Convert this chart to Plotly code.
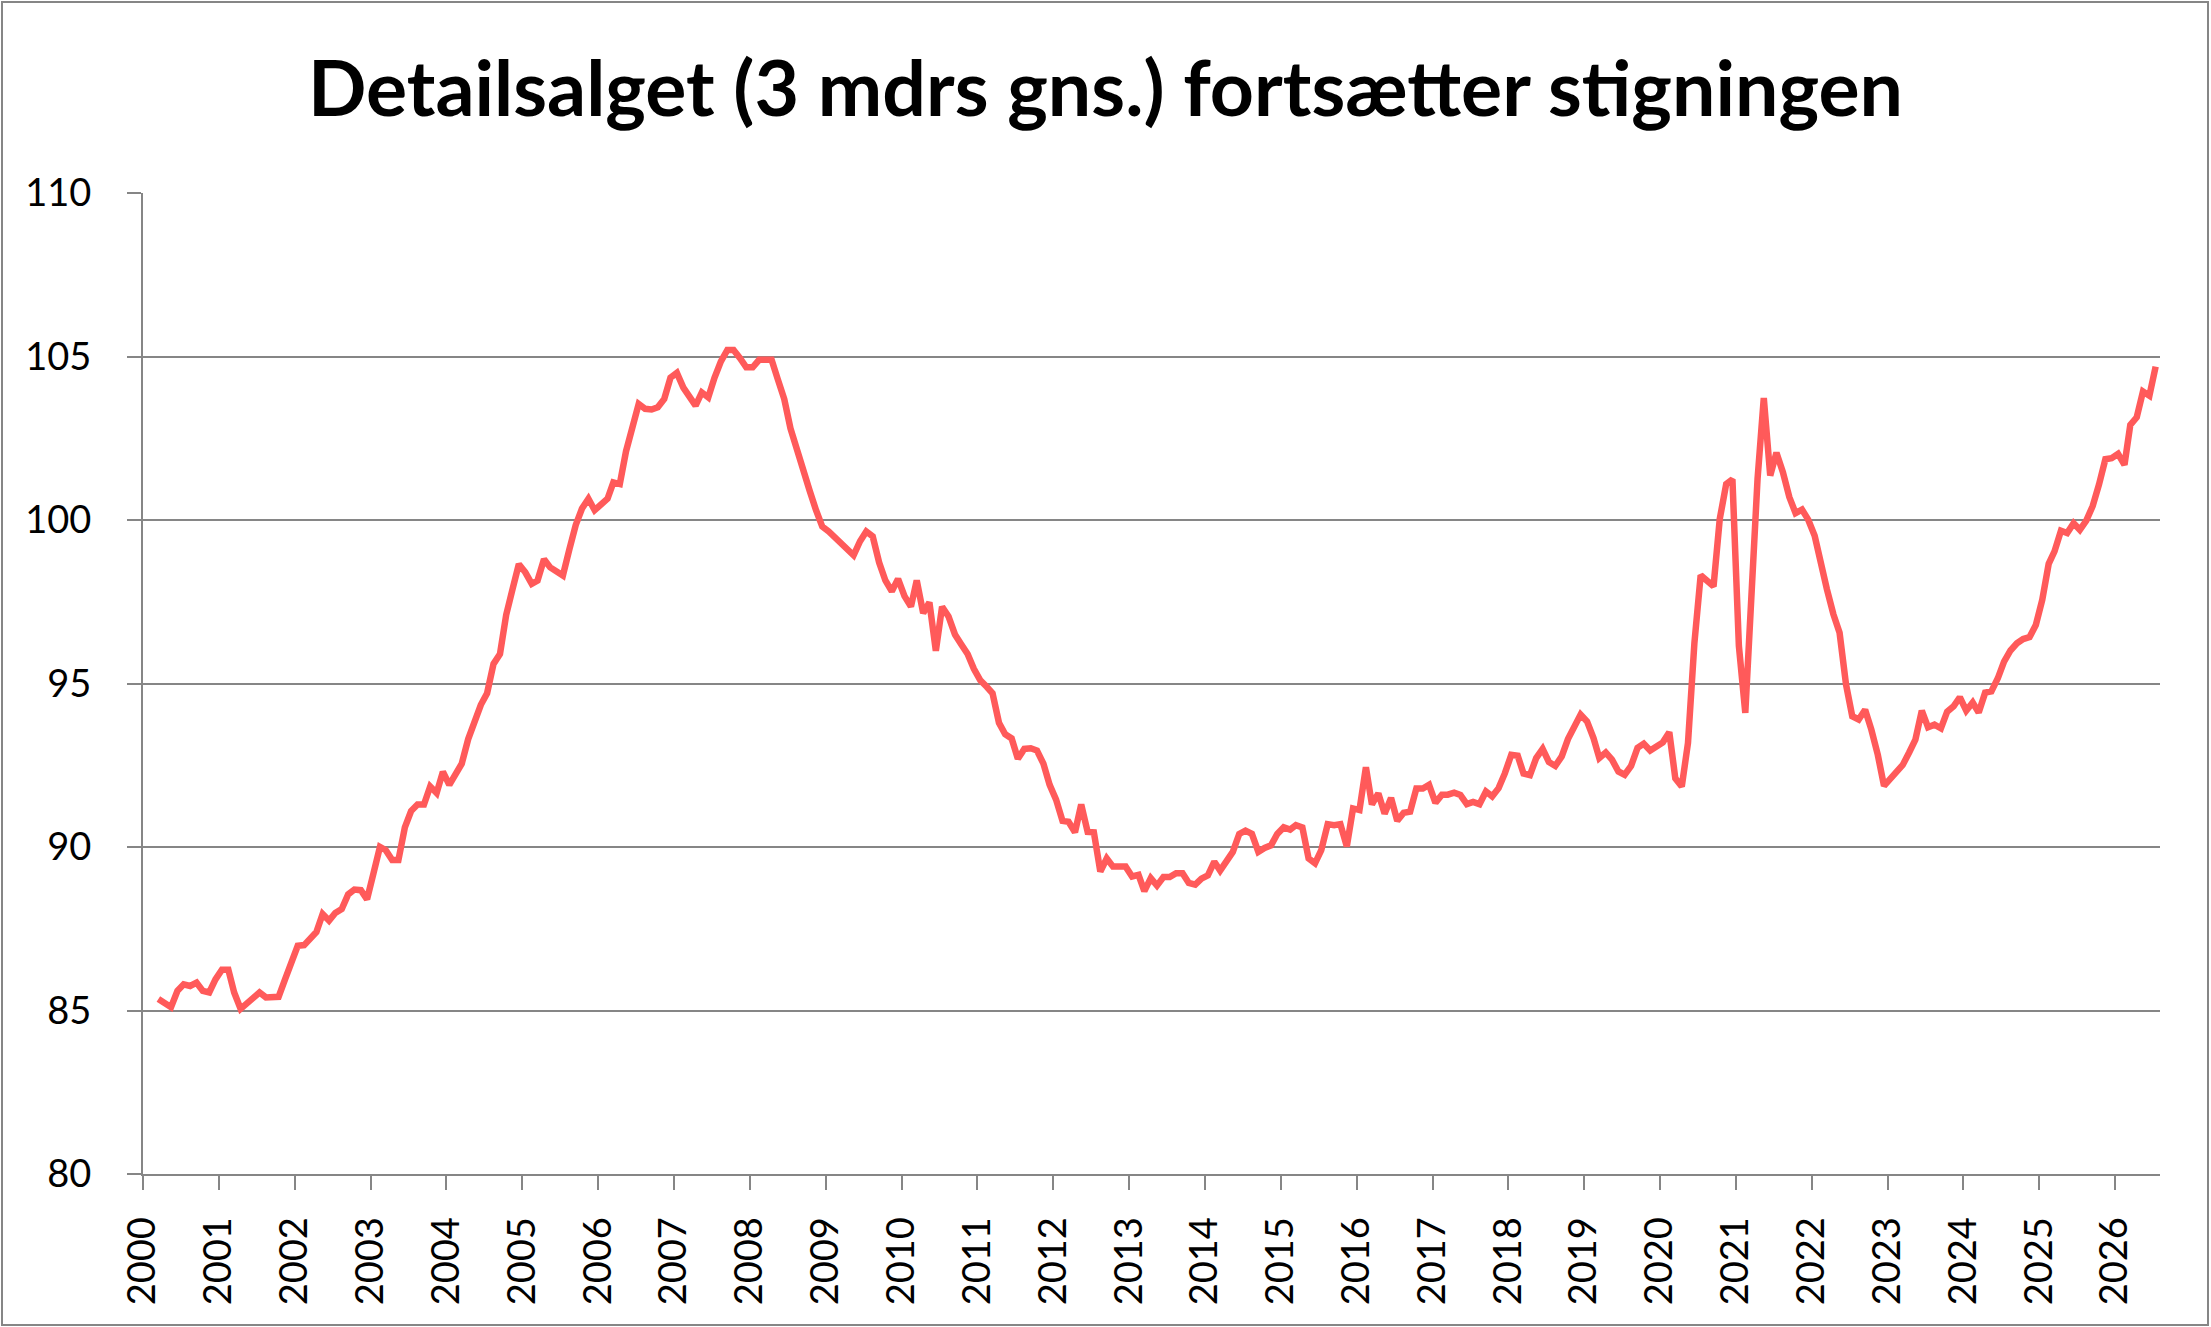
import pandas as pd
import plotly.graph_objects as go

# Detailsalget, 3 mdrs glidende gennemsnit (indeks), månedlige værdier fra marts 2000
START_MONTH = "2000-03-01"

values_2000 = [85.35, 85.2, 85.1, 85.6, 85.8, 85.75, 85.85, 85.6, 85.55, 85.95]
values_2001 = [86.25, 86.25, 85.55, 85.05, 85.2, 85.4, 85.55, 85.4, 85.4, 85.42, 85.95, 86.45]
values_2002 = [86.98, 87.0, 87.2, 87.4, 87.95, 87.75, 87.98, 88.1, 88.55, 88.7, 88.68, 88.4]
values_2003 = [89.2, 90.0, 89.9, 89.6, 89.6, 90.6, 91.1, 91.3, 91.3, 91.85, 91.65, 92.3]
values_2004 = [91.9, 92.25, 92.55, 93.3, 93.8, 94.35, 94.7, 95.6, 95.9, 97.1, 97.9, 98.65]
values_2005 = [98.4, 98.05, 98.15, 98.8, 98.55, 98.45, 98.3, 99.1, 99.85, 100.35, 100.65, 100.3]
values_2006 = [100.45, 100.65, 101.15, 101.1, 102.1, 102.9, 103.55, 103.4, 103.38, 103.45, 103.7, 104.35]
values_2007 = [104.5, 104.05, 103.8, 103.5, 103.9, 103.75, 104.35, 104.85, 105.2, 105.2, 104.95, 104.67]
values_2008 = [104.67, 104.9, 104.9, 104.9, 104.3, 103.7, 102.8, 102.1, 101.5, 100.9, 100.3, 99.8]
values_2009 = [99.65, 99.45, 99.25, 99.1, 98.92, 99.35, 99.65, 99.5, 98.7, 98.15, 97.82, 98.2]
values_2010 = [97.67, 97.35, 98.15, 97.15, 97.48, 96.0, 97.35, 97.05, 96.5, 96.2, 95.9, 95.45]
values_2011 = [95.1, 94.9, 94.7, 93.8, 93.45, 93.32, 92.7, 93.0, 93.02, 92.95, 92.55, 91.9]
values_2012 = [91.45, 90.8, 90.77, 90.45, 91.3, 90.46, 90.45, 89.25, 89.65, 89.4, 89.4, 89.4]
values_2013 = [89.1, 89.15, 88.65, 89.05, 88.82, 89.08, 89.08, 89.2, 89.2, 88.9, 88.85, 89.03]
values_2014 = [89.13, 89.55, 89.28, 89.55, 89.85, 90.4, 90.5, 90.4, 89.85, 89.97, 90.05, 90.4]
values_2015 = [90.6, 90.53, 90.67, 90.6, 89.65, 89.5, 89.9, 90.7, 90.67, 90.7, 90.02, 91.18]
values_2016 = [91.13, 92.44, 91.3, 91.64, 91.02, 91.5, 90.8, 91.05, 91.08, 91.79, 91.79, 91.9]
values_2017 = [91.35, 91.6, 91.6, 91.66, 91.59, 91.31, 91.38, 91.31, 91.7, 91.55, 91.8, 92.25]
values_2018 = [92.82, 92.79, 92.25, 92.2, 92.72, 93.0, 92.6, 92.48, 92.77, 93.3, 93.69, 94.05]
values_2019 = [93.84, 93.33, 92.72, 92.89, 92.67, 92.31, 92.21, 92.48, 93.03, 93.16, 92.95, 93.06]
values_2020 = [93.2, 93.51, 92.1, 91.85, 93.18, 96.25, 98.31, 98.14, 97.97, 100.03, 101.1, 101.24]
values_2021 = [96.15, 94.1, 97.68, 101.26, 103.73, 101.36, 102.06, 101.46, 100.7, 100.21, 100.32, 100.01]
values_2022 = [99.52, 98.6, 97.88, 97.12, 96.55, 94.97, 94.0, 93.9, 94.2, 93.59, 92.82, 91.87]
values_2023 = [92.11, 92.31, 92.51, 92.89, 93.28, 94.17, 93.66, 93.74, 93.63, 94.14, 94.3, 94.58]
values_2024 = [94.17, 94.42, 94.11, 94.72, 94.76, 95.16, 95.67, 96.01, 96.23, 96.36, 96.42, 96.79]
values_2025 = [97.56, 98.66, 99.04, 99.67, 99.6, 99.9, 99.7, 99.98, 100.43, 101.08, 101.86, 101.89]
values_2026 = [102.02, 101.69, 102.91, 103.14, 103.93, 103.8, 104.69]

TITLE = "Detailsalget (3 mdrs gns.) fortsætter stigningen"
FONT = "Lato, Carlito, Calibri, sans-serif"
LINE_COLOR = "#FF5A5A"
GRID_COLOR = "#868686"


def build_series():
    values = (values_2000 + values_2001 + values_2002 + values_2003 + values_2004
              + values_2005 + values_2006 + values_2007 + values_2008 + values_2009
              + values_2010 + values_2011 + values_2012 + values_2013 + values_2014
              + values_2015 + values_2016 + values_2017 + values_2018 + values_2019
              + values_2020 + values_2021 + values_2022 + values_2023 + values_2024
              + values_2025 + values_2026)
    # points sit in the middle of their month, like Excel's date axis
    dates = pd.date_range(START_MONTH, periods=len(values), freq="MS") + pd.Timedelta(days=14)
    return dates, values


def plot(dates, values):
    width, height = 2211, 1327
    m_l, m_r, m_t, m_b = 143, 51, 193, 153
    pw = width - m_l - m_r
    ph = height - m_t - m_b

    fig = go.Figure()
    fig.add_trace(go.Scatter(
        x=dates,
        y=values,
        mode="lines",
        line=dict(color=LINE_COLOR, width=6.5),
        hoverinfo="x+y",
        showlegend=False,
    ))

    fig.update_layout(
        width=width,
        height=height,
        margin=dict(l=m_l, r=m_r, t=m_t, b=m_b, pad=0),
        paper_bgcolor="white",
        plot_bgcolor="white",
        font=dict(family=FONT, size=38, color="black"),
        title=dict(
            text=f"<b>{TITLE}</b>",
            x=0.5, xanchor="center",
            yref="container", y=1 - 89 / height, yanchor="middle",
            font=dict(family=FONT, size=77, color="black"),
        ),
        xaxis=dict(
            type="date",
            range=["2000-01-01", "2026-08-05"],
            tick0="2000-01-01",
            dtick="M12",
            tickformat="%Y",
            tickangle=-90,
            ticks="outside",
            ticklen=14,
            tickwidth=2,
            tickcolor=GRID_COLOR,
            ticklabelstandoff=12,
            showgrid=False,
            showline=True,
            linecolor=GRID_COLOR,
            linewidth=2,
            zeroline=False,
        ),
        yaxis=dict(
            range=[80, 110],
            dtick=5,
            ticks="outside",
            ticklen=14,
            tickwidth=2,
            tickcolor=GRID_COLOR,
            ticklabelstandoff=28,
            showgrid=True,
            gridcolor=GRID_COLOR,
            gridwidth=2,
            showline=True,
            linecolor=GRID_COLOR,
            linewidth=2,
            zeroline=False,
        ),
        shapes=[dict(
            type="rect", xref="paper", yref="paper",
            x0=-(m_l - 2) / pw, x1=1 + (m_r - 3) / pw,
            y0=-(m_b - 2) / ph, y1=1 + (m_t - 2) / ph,
            line=dict(color=GRID_COLOR, width=2),
            layer="below",
        )],
    )

    fig.write_html("out.html", config={"displayModeBar": False},
                   post_script="document.body.style.margin='0px';")


def main():
    dates, values = build_series()
    plot(dates, values)


if __name__ == "__main__":
    main()
